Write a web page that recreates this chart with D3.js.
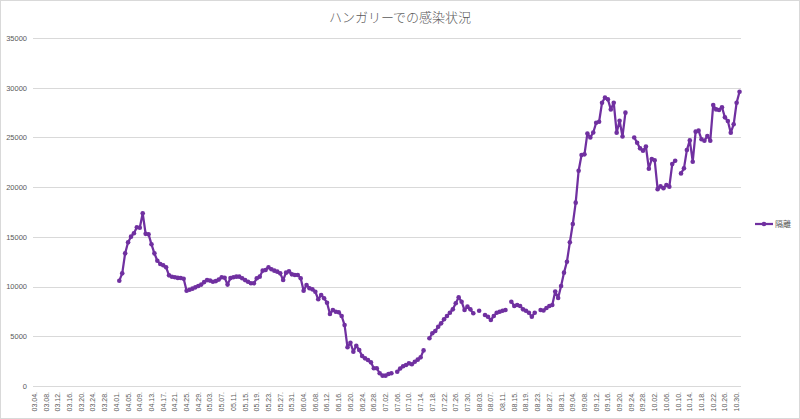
<!DOCTYPE html>
<html><head><meta charset="utf-8">
<script src="https://cdn.jsdelivr.net/npm/d3@7"></script>
<style>body{margin:0;background:#fff}</style>
</head><body>
<svg id="c" width="800" height="419"></svg>
<script>
const title = "ハンガリーでの感染状況";
const seriesName = "隔離";
const startDate = new Date(2020, 2, 4);
const endDate = new Date(2020, 9, 31);
const fmt = d3.timeFormat("%m.%d.");
const categories = d3.timeDay.range(startDate, d3.timeDay.offset(endDate, 1)).map(fmt);
const tickLabels = categories.filter((c, i) => i % 4 === 0);
const yTicks = [0, 5000, 10000, 15000, 20000, 25000, 30000, 35000];

// values per day from 03.04. to 10.31. (null = no data)
const values = [
  null,null,null,null,null,null,null,null,null,null,
  null,null,null,null,null,null,null,null,null,null,
  null,null,null,null,null,null,null,null,null,
  10590,11330,13350,14450,15020,15360,15960,15920,17370,15300,
  15250,14250,13340,12600,12270,12140,11940,11130,10990,10930,
  10870,10860,10790,9580,9680,9790,9920,10050,10200,10450,
  10650,10600,10490,10550,10700,10930,10890,10200,10850,10930,
  11000,11000,10830,10650,10490,10330,10330,10830,11000,11600,
  11670,11940,11740,11600,11500,11330,10660,11400,11530,11230,
  11160,11160,10830,9580,10160,9830,9720,9480,8720,9150,
  8820,8380,7240,7640,7470,7410,7040,6130,3890,4350,
  3450,4050,3620,3020,2780,2610,2380,1780,1780,1280,
  1040,1040,1210,1280,null,1440,1760,1980,2110,2280,
  2190,2440,2650,2880,3580,null,4800,5300,5530,5960,
  6300,6710,7040,7370,7710,8320,8920,8480,7640,7980,
  7710,7310,null,7570,null,7140,6970,6640,7040,7370,
  7470,7570,7640,null,8480,8050,8150,8050,7710,7570,
  7370,6970,7370,null,7640,7600,7850,8050,8150,9500,
  8850,10060,11400,12500,14450,16290,18440,21650,23230,23300,
  25400,25000,25500,26480,26580,28490,29000,28830,27820,28490,
  25480,26680,25100,27490,null,null,25000,24470,23900,23670,
  24080,21850,22830,22700,19800,20080,19900,20220,20050,22320,
  22660,null,21380,21890,23730,24700,22560,25580,25680,24810,
  24670,25140,24670,28260,27820,27760,28030,27020,26650,25480,
  26320,28490,29600
];

const data = categories.map((c, i) => ({c, v: values[i] === undefined ? null : values[i]}));

const svg = d3.select("#c");
const color = "#7030A0";
const textColor = "#595959";
const gridColor = "#d9d9d9";

svg.append("rect").attr("x", 0.5).attr("y", 0.5).attr("width", 799).attr("height", 418)
  .attr("fill", "#fff").attr("stroke", gridColor);

const x = d3.scaleBand().domain(categories).range([33, 741]);
const y = d3.scaleLinear().domain([0, 35000]).range([386, 38]);

// gridlines
svg.append("g").selectAll("line").data(yTicks).join("line")
  .attr("x1", 33).attr("x2", 741)
  .attr("y1", d => Math.round(y(d)) + 0.5).attr("y2", d => Math.round(y(d)) + 0.5)
  .attr("stroke", gridColor).attr("stroke-width", 1);

// y axis
const yAxis = svg.append("g").attr("transform", "translate(33,0)")
  .call(d3.axisLeft(y).tickValues(yTicks).tickSize(0).tickPadding(6).tickFormat(d3.format("d")));
yAxis.select(".domain").remove();
yAxis.selectAll("text").attr("fill", textColor)
  .style("font-family", "'Liberation Sans', Arial, sans-serif").style("font-size", "7.5px");

// x axis
const xAxis = svg.append("g").attr("transform", "translate(0,386)")
  .call(d3.axisBottom(x).tickValues(tickLabels).tickSize(0));
xAxis.select(".domain").remove();
xAxis.selectAll("text")
  .attr("transform", "rotate(-90)")
  .attr("text-anchor", "end")
  .attr("x", -6).attr("y", 0).attr("dy", "0.35em")
  .attr("fill", textColor)
  .style("font-family", "'Liberation Sans', Arial, sans-serif").style("font-size", "7px");

// line
const cx = d => x(d.c) + x.bandwidth() / 2;
const line = d3.line().defined(d => d.v !== null).x(cx).y(d => y(d.v));
svg.append("path").datum(data).attr("d", line)
  .attr("fill", "none").attr("stroke", color).attr("stroke-width", 2.25)
  .attr("stroke-linejoin", "round").attr("stroke-linecap", "round");

svg.append("g").selectAll("circle").data(data.filter(d => d.v !== null)).join("circle")
  .attr("cx", cx).attr("cy", d => y(d.v)).attr("r", 2.3).attr("fill", color);

// title
svg.append("text").attr("x", 400).attr("y", 22).attr("text-anchor", "middle")
  .attr("fill", textColor)
  .style("font-family", "'Noto Sans CJK JP', sans-serif").style("font-size", "13px").style("font-weight", 300)
  .text(title);

// legend
const lg = svg.append("g");
lg.append("line").attr("x1", 755).attr("x2", 773).attr("y1", 224).attr("y2", 224)
  .attr("stroke", color).attr("stroke-width", 2.25);
lg.append("circle").attr("cx", 764).attr("cy", 224).attr("r", 2.3).attr("fill", color);
lg.append("text").attr("x", 775).attr("y", 227).attr("fill", textColor)
  .style("font-family", "'Noto Sans CJK JP', sans-serif").style("font-size", "8px")
  .text(seriesName);
</script>
</body></html>
